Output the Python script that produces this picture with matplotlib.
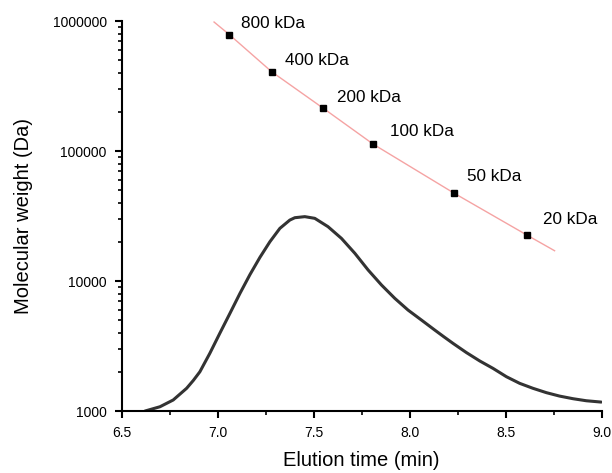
import matplotlib
matplotlib.use("Agg")
import matplotlib.pyplot as plt
from matplotlib.ticker import LogLocator, MultipleLocator, FixedLocator

plt.rcParams['font.family'] = ['Liberation Sans', 'DejaVu Sans']

# Calibration standards (elution time, molecular weight)
std_time = [7.06, 7.28, 7.55, 7.81, 8.23, 8.61]
std_mw = [785000, 407500, 212800, 112800, 47500, 22600]
std_labels = ['800 kDa', '400 kDa', '200 kDa', '100 kDa', '50 kDa', '20 kDa']

# Calibration fit curve
fit_time = [6.98, 7.06, 7.28, 7.55, 7.81, 8.23, 8.61, 8.755]
fit_mw = [982000, 785000, 407500, 212800, 112800, 47500, 22600, 17100]

# Sample elution profile (drawn on the MW axis)
prof_time = [6.62, 6.698, 6.767, 6.837, 6.872, 6.906, 6.958, 7.010, 7.063, 7.115,
             7.167, 7.219, 7.271, 7.323, 7.375, 7.401, 7.453, 7.505, 7.574,
             7.644, 7.714, 7.783, 7.853, 7.922, 7.991, 8.061, 8.130, 8.178,
             8.226, 8.295, 8.365, 8.434, 8.504, 8.573, 8.642, 8.712, 8.781,
             8.851, 8.920, 8.998]
prof_mw = [1000, 1079, 1216, 1496, 1720, 2004, 2780, 3963, 5650, 8035,
           11200, 15200, 20050, 25410, 29440, 30690, 31270, 30350, 26180,
           21280, 16330, 12160, 9310, 7360, 5980, 5010, 4200, 3724,
           3311, 2818, 2427, 2129, 1836, 1633, 1496, 1385, 1303,
           1244, 1200, 1172]

# label offsets in points (dx, dy) from each marker
label_offsets = [(8, 7.7), (9.6, 7.7), (9.8, 7.6), (12.2, 9.1), (9.1, 11.7), (11.7, 10.8)]

fig = plt.figure(figsize=(6.12, 4.73), dpi=100)
ax = fig.add_axes([0.1993, 0.131, 0.7837, 0.8246])

ax.plot(prof_time, prof_mw, color='#333333', lw=2.2, solid_capstyle='round',
        solid_joinstyle='round')
ax.plot(fit_time, fit_mw, color='#f5a3a3', lw=1.0)
ax.plot(std_time, std_mw, 's', color='black', markersize=5)

for t, m, lab, off in zip(std_time, std_mw, std_labels, label_offsets):
    ax.annotate(lab, (t, m), xytext=off, textcoords='offset points',
                fontsize=12.3, va='center', ha='left')

ax.set_yscale('log')
ax.set_xlim(6.5, 9.0)
ax.set_ylim(1000, 1000000)
ax.yaxis.set_major_locator(FixedLocator([1000, 10000, 100000, 1000000]))
ax.yaxis.set_major_formatter(plt.FuncFormatter(lambda v, p: '%d' % v))
ax.yaxis.set_minor_locator(LogLocator(base=10, subs=range(2, 10)))
ax.yaxis.set_minor_formatter(plt.NullFormatter())
ax.xaxis.set_major_locator(MultipleLocator(0.5))
ax.xaxis.set_minor_locator(MultipleLocator(0.25))
ax.xaxis.set_major_formatter(plt.FuncFormatter(lambda v, p: '%.1f' % v))

for s in ['top', 'right']:
    ax.spines[s].set_visible(False)
for s in ['left', 'bottom']:
    ax.spines[s].set_linewidth(1.5)

ax.tick_params(which='major', direction='out', length=5, width=1.5,
               labelsize=10, pad=6)
ax.tick_params(which='minor', direction='out', length=3, width=1.2)

ax.set_xlabel('Elution time (min)', fontsize=14.5)
ax.set_ylabel('Molecular weight (Da)', fontsize=14.5)
ax.xaxis.set_label_coords(0.4994, -0.103)
ax.yaxis.set_label_coords(-0.186, 0.5)

fig.savefig('out.png', dpi=100)
